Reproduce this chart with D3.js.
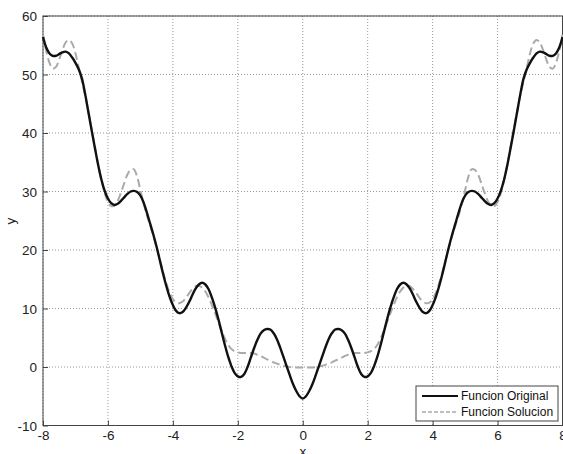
<!DOCTYPE html>
<html>
<head>
<meta charset="utf-8">
<script src="https://cdn.jsdelivr.net/npm/d3@7"></script>
<style>
  body { margin: 0; background: #fff; }
  svg { display: block; font-family: "Liberation Sans", Arial, sans-serif; }
</style>
</head>
<body>
<svg id="chart" width="563" height="454"></svg>
<script>
const xValues = [
  -8.0, -7.9, -7.8, -7.7, -7.6, -7.5, -7.4, -7.3, -7.2, -7.1,
  -7.0, -6.9, -6.8, -6.7, -6.6, -6.5, -6.4, -6.3, -6.2, -6.1,
  -6.0, -5.9, -5.8, -5.7, -5.6, -5.5, -5.4, -5.3, -5.2, -5.1,
  -5.0, -4.9, -4.8, -4.7, -4.6, -4.5, -4.4, -4.3, -4.2, -4.1,
  -4.0, -3.9, -3.8, -3.7, -3.6, -3.5, -3.4, -3.3, -3.2, -3.1,
  -3.0, -2.9, -2.8, -2.7, -2.6, -2.5, -2.4, -2.3, -2.2, -2.1,
  -2.0, -1.9, -1.8, -1.7, -1.6, -1.5, -1.4, -1.3, -1.2, -1.1,
  -1.0, -0.9, -0.8, -0.7, -0.6, -0.5, -0.4, -0.3, -0.2, -0.1,
  0.0,
  0.1, 0.2, 0.3, 0.4, 0.5, 0.6, 0.7, 0.8, 0.9, 1.0,
  1.1, 1.2, 1.3, 1.4, 1.5, 1.6, 1.7, 1.8, 1.9, 2.0,
  2.1, 2.2, 2.3, 2.4, 2.5, 2.6, 2.7, 2.8, 2.9, 3.0,
  3.1, 3.2, 3.3, 3.4, 3.5, 3.6, 3.7, 3.8, 3.9, 4.0,
  4.1, 4.2, 4.3, 4.4, 4.5, 4.6, 4.7, 4.8, 4.9, 5.0,
  5.1, 5.2, 5.3, 5.4, 5.5, 5.6, 5.7, 5.8, 5.9, 6.0,
  6.1, 6.2, 6.3, 6.4, 6.5, 6.6, 6.7, 6.8, 6.9, 7.0,
  7.1, 7.2, 7.3, 7.4, 7.5, 7.6, 7.7, 7.8, 7.9, 8.0
];

// Funcion Original (solid black)
const originalValues = [
  56.4, 54.6, 53.6, 53.2, 53.2, 53.5, 53.8, 53.9, 53.6, 52.9,
  52.0, 50.9, 49.3, 46.6, 43.5, 40.4, 37.4, 34.5, 32.0, 30.1,
  28.8, 28.0, 27.7, 27.9, 28.4, 29.0, 29.6, 30.0, 30.1, 29.9,
  29.3, 28.1, 26.4, 24.5, 22.6, 20.5, 18.2, 15.9, 13.8, 12.0,
  10.6, 9.6, 9.2, 9.4, 10.1, 11.1, 12.3, 13.4, 14.1, 14.4,
  14.1, 13.3, 11.9, 10.2, 8.2, 6.0, 3.8, 1.8, 0.2, -1.0,
  -1.6, -1.7, -1.2, 0.0, 1.6, 3.2, 4.6, 5.7, 6.3, 6.5,
  6.4, 5.8, 4.8, 3.4, 1.8, 0.2, -1.4, -2.9, -4.1, -5.0,
  -5.4,
  -5.0, -4.1, -2.9, -1.4, 0.2, 1.8, 3.4, 4.8, 5.8, 6.4,
  6.5, 6.3, 5.7, 4.6, 3.2, 1.6, 0.0, -1.2, -1.7, -1.6,
  -1.0, 0.2, 1.8, 3.8, 6.0, 8.2, 10.2, 11.9, 13.3, 14.1,
  14.4, 14.1, 13.4, 12.3, 11.1, 10.1, 9.4, 9.2, 9.6, 10.6,
  12.0, 13.8, 15.9, 18.2, 20.5, 22.6, 24.5, 26.4, 28.1, 29.3,
  29.9, 30.1, 30.0, 29.6, 29.0, 28.4, 27.9, 27.7, 28.0, 28.8,
  30.1, 32.0, 34.5, 37.4, 40.4, 43.5, 46.6, 49.3, 50.9, 52.0,
  52.9, 53.6, 53.9, 53.8, 53.5, 53.2, 53.2, 53.6, 54.6, 56.4
];

// Funcion Solucion (dashed gray)
const solutionValues = [
  56.8, 54.0, 52.0, 51.0, 51.3, 52.6, 54.2, 55.5, 55.9, 55.3,
  53.6, 51.2, 48.8, 46.4, 43.6, 40.6, 37.6, 34.6, 31.9, 29.7,
  28.2, 27.5, 27.6, 28.4, 29.8, 31.4, 32.9, 33.7, 33.8, 32.5,
  30.2, 27.9, 25.9, 24.2, 22.4, 20.4, 18.3, 16.2, 14.3, 12.7,
  11.6, 11.0, 10.9, 11.2, 11.8, 12.6, 13.3, 13.8, 13.9, 13.6,
  12.9, 11.9, 10.6, 9.2, 7.7, 6.2, 4.9, 3.8, 3.1, 2.7,
  2.5, 2.4, 2.4, 2.4, 2.4, 2.3, 2.1, 1.9, 1.6, 1.3,
  1.1, 0.8, 0.6, 0.4, 0.2, 0.1, 0.0, -0.1, -0.1, -0.1,
  -0.1,
  -0.1, -0.1, -0.1, 0.0, 0.1, 0.2, 0.4, 0.6, 0.8, 1.1,
  1.3, 1.6, 1.9, 2.1, 2.3, 2.4, 2.4, 2.4, 2.4, 2.5,
  2.7, 3.1, 3.8, 4.9, 6.2, 7.7, 9.2, 10.6, 11.9, 12.9,
  13.6, 13.9, 13.8, 13.3, 12.6, 11.8, 11.2, 10.9, 11.0, 11.6,
  12.7, 14.3, 16.2, 18.3, 20.4, 22.4, 24.2, 25.9, 27.9, 30.2,
  32.5, 33.8, 33.7, 32.9, 31.4, 29.8, 28.4, 27.6, 27.5, 28.2,
  29.7, 31.9, 34.6, 37.6, 40.6, 43.6, 46.4, 48.8, 51.2, 53.6,
  55.3, 55.9, 55.5, 54.2, 52.6, 51.3, 51.0, 52.0, 54.0, 56.8
];

const xTicks = [-8, -6, -4, -2, 0, 2, 4, 6, 8];
const yTicks = [-10, 0, 10, 20, 30, 40, 50, 60];
const seriesNames = ['Funcion Original', 'Funcion Solucion'];

const svg = d3.select('#chart');
const margin = { left: 43, right: 0.5, top: 16, bottom: 28.5 };
const width = 563 - margin.left - margin.right;
const height = 454 - margin.top - margin.bottom;

const g = svg.append('g')
  .attr('transform', `translate(${margin.left},${margin.top})`);

const xScale = d3.scaleLinear().domain([-8, 8]).range([0, width]);
const yScale = d3.scaleLinear().domain([-10, 60]).range([height, 0]);

// dotted grid
g.append('g')
  .selectAll('line')
  .data(xTicks)
  .join('line')
  .attr('x1', d => xScale(d)).attr('x2', d => xScale(d))
  .attr('y1', 0).attr('y2', height)
  .attr('stroke', '#999').attr('stroke-width', 1)
  .attr('stroke-dasharray', '1,2');

g.append('g')
  .selectAll('line')
  .data(yTicks)
  .join('line')
  .attr('x1', 0).attr('x2', width)
  .attr('y1', d => yScale(d)).attr('y2', d => yScale(d))
  .attr('stroke', '#999').attr('stroke-width', 1)
  .attr('stroke-dasharray', '1,2');

// axes, MATLAB style: hyphen minus, ticks pointing inward
const plainFormat = d => String(d);

const xAxis = g.append('g')
  .attr('transform', `translate(0,${height})`)
  .call(d3.axisBottom(xScale).tickValues(xTicks).tickSize(-5).tickPadding(5).tickFormat(plainFormat));

const yAxis = g.append('g')
  .call(d3.axisLeft(yScale).tickValues(yTicks).tickSize(-5).tickPadding(6).tickFormat(plainFormat));

[xAxis, yAxis].forEach(ax => {
  ax.select('.domain').remove();
  ax.selectAll('line').attr('stroke', '#444');
  ax.selectAll('text').attr('fill', '#222').style('font-size', '13.5px');
});
yAxis.selectAll('text').attr('dy', '0.36em');

g.append('rect')
  .attr('x', 0).attr('y', 0)
  .attr('width', width).attr('height', height)
  .attr('fill', 'none')
  .attr('stroke', '#444')
  .attr('stroke-width', 1);

// curves
const line = d3.line()
  .curve(d3.curveCatmullRom)
  .x((d, i) => xScale(xValues[i]))
  .y(d => yScale(d));

g.append('path')
  .attr('d', line(solutionValues))
  .attr('fill', 'none')
  .attr('stroke', '#aaa')
  .attr('stroke-width', 2)
  .attr('stroke-dasharray', '8,4');

g.append('path')
  .attr('d', line(originalValues))
  .attr('fill', 'none')
  .attr('stroke', '#111')
  .attr('stroke-width', 2.4);

// axis labels
svg.append('text')
  .attr('x', margin.left + width / 2)
  .attr('y', 456)
  .attr('text-anchor', 'middle')
  .style('font-size', '13.5px')
  .attr('fill', '#222')
  .text('x');

svg.append('text')
  .attr('transform', 'translate(15,221) rotate(-90)')
  .attr('text-anchor', 'middle')
  .style('font-size', '13.5px')
  .attr('fill', '#222')
  .text('y');

// legend
const legend = svg.append('g').attr('transform', 'translate(416,386)');
legend.append('rect')
  .attr('width', 142).attr('height', 35)
  .attr('fill', '#fff')
  .attr('stroke', '#444');

const legendStyles = [
  { stroke: '#111', dash: null, w: 2 },
  { stroke: '#aaa', dash: '4,2', w: 1.5 }
];

seriesNames.forEach((name, i) => {
  const yy = 10 + i * 16;
  legend.append('line')
    .attr('x1', 6).attr('x2', 42)
    .attr('y1', yy).attr('y2', yy)
    .attr('stroke', legendStyles[i].stroke)
    .attr('stroke-width', legendStyles[i].w)
    .attr('stroke-dasharray', legendStyles[i].dash);
  legend.append('text')
    .attr('x', 45).attr('y', yy)
    .attr('dy', '0.36em')
    .style('font-size', '12px')
    .attr('fill', '#111')
    .text(name);
});
</script>
</body>
</html>
